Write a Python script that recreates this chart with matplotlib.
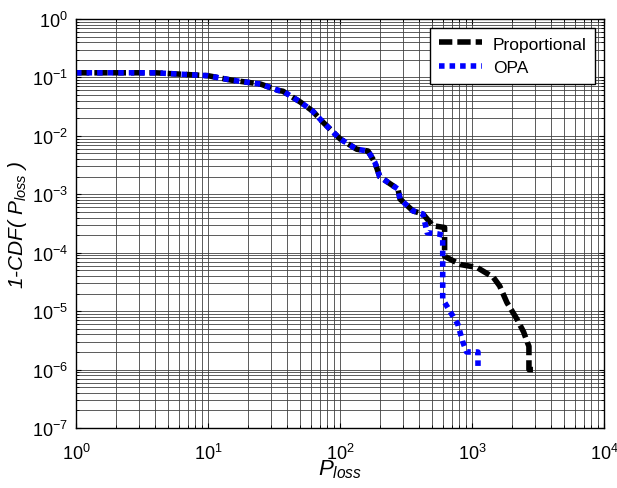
import numpy as np
import matplotlib
matplotlib.use('Agg')
import matplotlib.pyplot as plt
from matplotlib.ticker import LogLocator, NullFormatter

plt.rcParams.update({'font.family': ['Liberation Sans', 'DejaVu Sans'],
                     'mathtext.fontset': 'custom',
                     'mathtext.rm': 'Liberation Sans',
                     'mathtext.it': 'Liberation Sans:italic',
                     'mathtext.default': 'regular',
                     'font.size': 12})

# 1-CDF of P_loss
prop_x = [1, 4, 10, 15, 25, 34, 37, 50, 62, 74, 100, 134, 163, 184, 200, 252, 275, 285,
          357, 425, 505, 620, 620, 810, 1090, 1450, 1620, 1840, 2190, 2460, 2630, 2700,
          2700, 3000]
prop_y = [0.12, 0.12, 0.107, 0.09, 0.077, 0.06, 0.058, 0.038, 0.0266, 0.0173, 0.0089,
          0.0059, 0.0055, 0.0035, 0.002, 0.0014, 0.00123, 0.00083, 0.00052, 0.00046,
          0.00029, 0.00027, 8.7e-5, 6.3e-5, 5.6e-5, 3.8e-5, 2.7e-5, 1.4e-5, 7.3e-6,
          4.4e-6, 2.9e-6, 2.5e-6, 1e-6, 1e-6]

opa_x = [1, 4, 10, 15, 25, 34, 37, 50, 62, 74, 100, 134, 163, 184, 200, 252, 275, 285,
         357, 425, 457, 550, 600, 600, 680, 780, 850, 910, 1110, 1110]
opa_y = [0.12, 0.12, 0.107, 0.09, 0.077, 0.06, 0.058, 0.038, 0.0266, 0.0173, 0.0089,
         0.0059, 0.0055, 0.0035, 0.002, 0.0014, 0.00123, 0.00083, 0.00052, 0.00046,
         2.2e-4, 2.1e-4, 2.0e-4, 1.6e-5, 1.0e-5, 6e-6, 3e-6, 2e-6, 2e-6, 1.1e-6]

fig = plt.figure(figsize=(6.17, 4.89), dpi=100)
ax = fig.add_axes([76 / 617, 1 - 429 / 489, 528 / 617, 409 / 489])

ax.plot(prop_x, prop_y, color='black', lw=4, linestyle=(0, (2.4, 0.9)),
        dash_capstyle='butt', label='Proportional')
ax.plot(opa_x, opa_y, color='#0000ff', lw=4, linestyle=(0, (1, 0.9)),
        dash_capstyle='butt', label='OPA')

ax.set_xscale('log')
ax.set_yscale('log')
ax.set_xlim(1, 1e4)
ax.set_ylim(1e-7, 1)

ax.xaxis.set_major_locator(LogLocator(base=10, numticks=10))
ax.yaxis.set_major_locator(LogLocator(base=10, numticks=10))
ax.xaxis.set_minor_locator(LogLocator(base=10, subs=np.arange(2, 10), numticks=20))
ax.yaxis.set_minor_locator(LogLocator(base=10, subs=np.arange(2, 10), numticks=20))
ax.xaxis.set_minor_formatter(NullFormatter())
ax.yaxis.set_minor_formatter(NullFormatter())

ax.grid(True, which='both', color='0.25', lw=0.6)
ax.set_axisbelow(True)
ax.tick_params(which='both', direction='in', top=True, right=True, labelsize=13)
ax.tick_params(axis='x', pad=11)
ax.tick_params(axis='y', pad=6)
for s in ax.spines.values():
    s.set_linewidth(1.0)

ax.set_xlabel('$\\mathit{P_{loss}}$', fontsize=16, labelpad=-4)
ax.set_ylabel('1-CDF( $\\mathit{P_{loss}}$ )', fontsize=15, style='italic', labelpad=2)

leg = ax.legend(loc='upper right', fontsize=12.5, fancybox=False, framealpha=1,
                edgecolor='black', handlelength=2.5, handletextpad=0.6,
                borderaxespad=0.5, labelspacing=0.5, borderpad=0.5)
leg.get_frame().set_linewidth(1.0)

fig.savefig('out.png', dpi=100)
